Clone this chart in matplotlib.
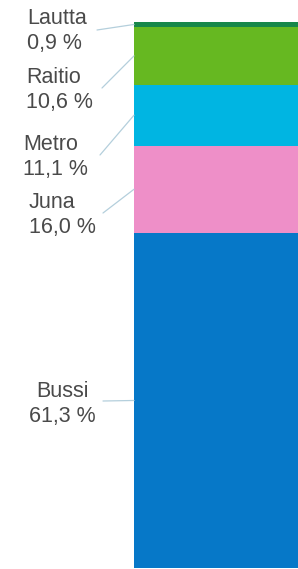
import matplotlib
matplotlib.use("Agg")
import matplotlib.pyplot as plt
import numpy as np

# Data (bottom to top)
categories = ["Bussi", "Juna", "Metro", "Raitio", "Lautta"]
shares = [61.3, 16.0, 11.1, 10.6, 0.9]
value_labels = ["61,3 %", "16,0 %", "11,1 %", "10,6 %", "0,9 %"]
colors = ["#0678c8", "#ee8fc8", "#00b5e2", "#66b821", "#17874a"]

W, H = 298, 569
fig = plt.figure(figsize=(W / 100, H / 100), dpi=100)

# bar axes (pixel layout)
left_px, top_px, bottom_px = 134, 22, 568
ax = fig.add_axes([left_px / W, (H - bottom_px) / H, (W - left_px) / W, (bottom_px - top_px) / H])
bottoms = np.concatenate([[0], np.cumsum(shares)[:-1]])
ax.bar([0] * len(shares), shares, bottom=bottoms, width=1.0, color=colors, linewidth=0)
ax.set_xlim(-0.5, 0.5)
ax.set_ylim(0, sum(shares))
ax.axis("off")

# label layout (image pixel coords: x, y of text anchor, alignment, line start)
label_layout = {
    "Lautta": dict(tx=27, ty=31, ha="left", lx=97, ly=30),
    "Raitio": dict(tx=26, ty=90, ha="left", lx=102, ly=88),
    "Metro": dict(tx=23, ty=157, ha="left", lx=100, ly=155),
    "Juna": dict(tx=29, ty=215, ha="left", lx=103, ly=213),
    "Bussi": dict(tx=62, ty=404, ha="center", lx=103, ly=401),
}

for cat, val, b, lab in zip(categories, shares, bottoms, value_labels):
    L = label_layout[cat]
    fig.text(L["tx"] / W, (H - L["ty"]) / H, f"{cat}\n{lab}", ha=L["ha"], va="center",
             multialignment=L["ha"], fontsize=15.5, color="#4a4a4a",
             family=["Liberation Sans", "DejaVu Sans"], linespacing=1.25)
    ax.annotate("", xy=(-0.5, b + val / 2), xycoords="data",
                xytext=(L["lx"], H - L["ly"]), textcoords="figure pixels",
                arrowprops=dict(arrowstyle="-", color="#b4cfdc", lw=0.9,
                                shrinkA=0, shrinkB=0), annotation_clip=False)

fig.savefig("out.png", dpi=100)
